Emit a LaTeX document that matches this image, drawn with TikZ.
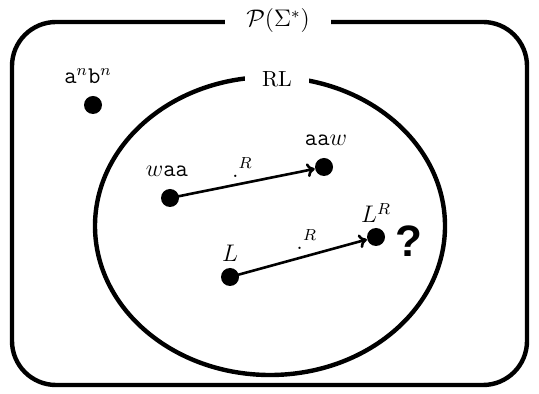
\documentclass[tikz,border=0pt]{standalone}
\usepackage{amsmath}
\usepackage{fontspec}
\newfontfamily\qfont{Liberation Sans}
\usetikzlibrary{arrows.meta}
\begin{document}
\begin{tikzpicture}[x=0.5pt,y=-0.5pt,
  frame/.style={line width=2.2pt},
  dot/.style={circle,fill=black,inner sep=0pt,minimum size=9pt},
  lbl/.style={inner sep=0pt,font=\large},
  gaplbl/.style={fill=white,inner sep=0pt,inner xsep=8.5pt,font=\fontsize{10.95}{13}\selectfont},
  arr/.style={line width=1.3pt,-{To[length=4pt,width=7pt,line width=1.3pt]}}]
\useasboundingbox (0,0) rectangle (539,394);
\draw[frame,rounded corners=22pt] (12,22) rectangle (527,385);
\node[gaplbl,inner xsep=10.5pt,font=\large] (pset) at (278,21) {$\mathcal{P}(\Sigma^*)$};
\draw[frame] (270,226) ellipse [x radius=87.5pt, y radius=74.5pt];
\node[gaplbl] (rl) at (277,79) {RL};
\node[dot] (anbn) at (93,105) {};
\node[lbl] (anbnl) at (88,76) {$\mathtt{a}^n\mathtt{b}^n$};
\node[dot] (waa) at (170,198) {};
\node[lbl] (waal) at (167,171) {$w\mathtt{aa}$};
\node[dot] (aaw) at (324,167) {};
\node[lbl] (aawl) at (326,140) {$\mathtt{aa}w$};
\node[dot] (L) at (230,277) {};
\node[lbl] (Ll) at (230,253) {$L$};
\node[dot] (LR) at (376,237) {};
\node[lbl] (LRl) at (376,213) {$L^R$};
\node[inner sep=0pt,font=\qfont\bfseries\fontsize{22}{26}\selectfont] (q) at (409,241) {?};
\draw[arr] (waa.center) -- (aaw) node[lbl,pos=0.5,above=2.5pt] (r1) {$.^R$};
\draw[arr] (L.center) -- (LR) node[lbl,pos=0.56,above=2.5pt] (r2) {$.^R$};
\end{tikzpicture}
\end{document}
